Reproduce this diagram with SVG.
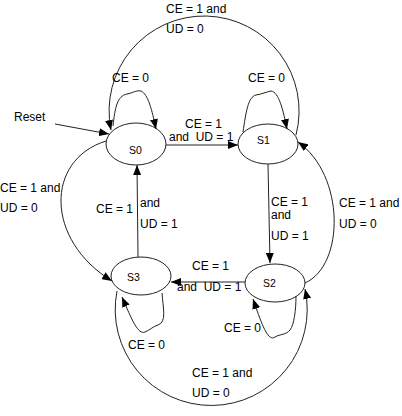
<svg xmlns="http://www.w3.org/2000/svg" width="402" height="416" viewBox="0 0 402 416">
<style>
.bg{fill:#fff}
.node{fill:#fff;stroke:#222;stroke-width:1}
.nl{font-family:"Liberation Sans",Arial,sans-serif;font-size:10.5px;fill:#000}
.lbl{font-family:"Liberation Sans",Arial,sans-serif;font-size:12px;fill:#000}
.c{fill:none;stroke:#222;stroke-width:1}
.a{marker-end:url(#ah)}
</style>
<defs>
<marker id="ah" markerUnits="userSpaceOnUse" markerWidth="10" markerHeight="8" refX="10" refY="4" orient="auto">
<path d="M0,0 L10,4 L0,8 z" fill="#000"/>
</marker>
</defs>
<rect class="bg" x="0" y="0" width="402" height="416"/>
<g id="S0"><ellipse class="node" cx="136" cy="144" rx="30" ry="21"/><text class="nl" x="129" y="154">S0</text></g>
<g id="S1"><ellipse class="node" cx="268" cy="144" rx="30" ry="20"/><text class="nl" x="257" y="144">S1</text></g>
<g id="S3"><ellipse class="node" cx="141" cy="276" rx="30" ry="19"/><text class="nl" x="127" y="281">S3</text></g>
<g id="S2"><ellipse class="node" cx="275" cy="283" rx="30" ry="19"/><text class="nl" x="263" y="287">S2</text></g>
<g id="connectors">
<path class="c a" d="M55,124 L109,134"/>
<path class="c a" d="M296,135 A95 95 0 1 0 111,130"/>
<path class="c a" d="M113,126 C115,108 117,96 127,94 C133,93 136,90 141,91 C148,94 152,110 156,129"/>
<path class="c a" d="M243,132 C246,112 248,97 256,95 C262,94 266,92 271,91 C279,92 283,110 287,129"/>
<path class="c a" d="M166,145 L238,145"/>
<path class="c a" d="M268,164 L270,263"/>
<path class="c a" d="M305,283 C345,265 345,175 298,142"/>
<path class="c a" d="M106,141 C45,160 45,240 112,281"/>
<path class="c a" d="M138,257 L137,165"/>
<path class="c a" d="M245,282 L171,282"/>
<path class="c a" d="M162,293 C163,308 167,322 158,325 C152,327 150,330 145,332 C138,335 132,320 122,297"/>
<path class="c a" d="M296,296 C296,310 294,325 290,330 C286,335 280,334 275,337 C268,342 262,325 253,299"/>
<path class="c a" d="M117,291 A96 96 0 1 0 305,289"/>
</g>
<g id="labels">
<text class="lbl" x="166" y="13">CE = 1 and</text>
<text class="lbl" x="166" y="33">UD = 0</text>
<text class="lbl" x="112" y="82">CE = 0</text>
<text class="lbl" x="248" y="82">CE = 0</text>
<text class="lbl" x="14" y="121">Reset</text>
<text class="lbl" x="185" y="128">CE = 1</text>
<text class="lbl" x="169" y="141" xml:space="preserve">and  UD = 1</text>
<text class="lbl" x="0" y="192">CE = 1 and</text>
<text class="lbl" x="0" y="212">UD = 0</text>
<text class="lbl" x="96" y="213">CE = 1</text>
<text class="lbl" x="140" y="207">and</text>
<text class="lbl" x="140" y="228">UD = 1</text>
<text class="lbl" x="271" y="206">CE = 1</text>
<text class="lbl" x="271" y="219">and</text>
<text class="lbl" x="271" y="240">UD = 1</text>
<text class="lbl" x="339" y="207">CE = 1 and</text>
<text class="lbl" x="339" y="228">UD = 0</text>
<text class="lbl" x="192" y="270">CE = 1</text>
<text class="lbl" x="177" y="291" xml:space="preserve">and  UD = 1</text>
<text class="lbl" x="128" y="349">CE = 0</text>
<text class="lbl" x="224" y="332">CE = 0</text>
<text class="lbl" x="192" y="377">CE = 1 and</text>
<text class="lbl" x="192" y="397">UD = 0</text>
</g>
</svg>
